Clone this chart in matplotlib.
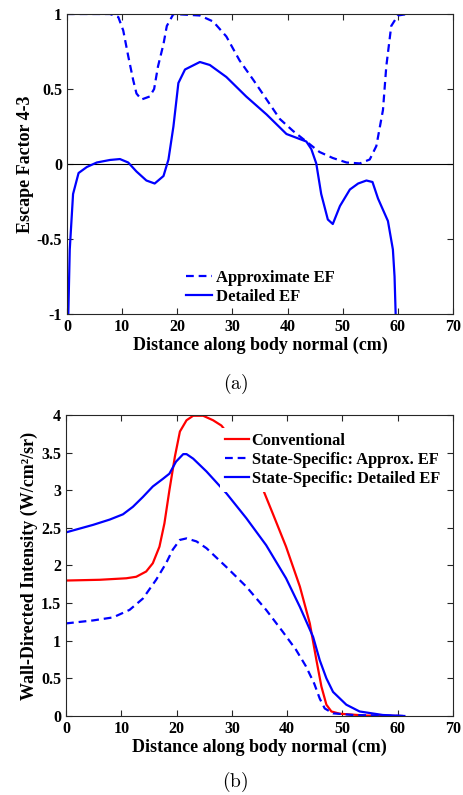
import matplotlib
matplotlib.use('Agg')
import matplotlib.pyplot as plt

plt.rcParams['font.family'] = ['Liberation Serif', 'DejaVu Serif']
plt.rcParams['font.weight'] = 'bold'
plt.rcParams['axes.labelweight'] = 'bold'

# panel (a): escape factor
approx_x = [0, 7.8, 9.3, 10.2, 11.1, 12.0, 12.6, 13.5, 15.0, 15.8, 16.5, 17.5, 18.1, 19.3,
            24.1, 26.5, 28.9, 31.3, 33.8, 36.2, 38.6, 41.0, 43.4, 45.8, 48.2, 50.7, 53.1,
            54.9, 56.1, 57.3, 57.9, 58.8, 60.0, 61.8]
approx_y = [1.0, 1.0, 0.98, 0.89, 0.72, 0.56, 0.47, 0.43, 0.45, 0.50, 0.65, 0.80, 0.92, 1.0,
            0.99, 0.95, 0.85, 0.69, 0.56, 0.43, 0.30, 0.22, 0.15, 0.08, 0.04, 0.01, 0.004,
            0.03, 0.12, 0.36, 0.65, 0.92, 0.99, 1.0]
detail_x = [0.24, 0.5, 1.1, 2.1, 3.6, 5.4, 7.8, 9.6, 11.1, 12.6, 14.4, 15.9, 17.5, 18.4,
            19.3, 20.2, 21.4, 24.1, 25.9, 28.9, 32.5, 36.2, 39.8, 43.4, 44.3, 45.2, 46.1,
            47.3, 48.2, 49.5, 51.3, 52.8, 54.3, 55.4, 56.4, 58.2, 59.1, 59.4, 59.6]
detail_y = [-1.0, -0.57, -0.20, -0.06, -0.02, 0.01, 0.027, 0.033, 0.01, -0.05, -0.11, -0.13,
            -0.08, 0.03, 0.25, 0.54, 0.63, 0.68, 0.66, 0.58, 0.45, 0.33, 0.20, 0.15, 0.10,
            0.004, -0.20, -0.37, -0.40, -0.28, -0.17, -0.13, -0.11, -0.12, -0.23, -0.38,
            -0.57, -0.75, -1.0]

# panel (b): wall-directed intensity
conv_x = [0, 6.1, 10.9, 12.7, 14.5, 15.7, 16.9, 17.8, 18.7, 19.7, 20.6, 21.8, 23.0, 24.8,
          26.6, 28.1, 31.5, 35.3, 37.4, 39.8, 42.3, 44.1, 45.3, 46.2, 47.1, 48.0, 49.5,
          54.3, 60.3]
conv_y = [1.80, 1.81, 1.83, 1.85, 1.92, 2.03, 2.25, 2.56, 3.0, 3.45, 3.78, 3.93, 3.99, 3.99,
          3.93, 3.86, 3.55, 3.07, 2.69, 2.25, 1.72, 1.23, 0.74, 0.39, 0.15, 0.06, 0.03,
          0.005, 0.0]
ssa_x = [0, 4.9, 8.5, 11.5, 13.9, 16.3, 18.1, 19.3, 20.6, 21.8, 23.6, 25.4, 29.0, 32.6,
         36.2, 39.2, 41.6, 43.4, 44.9, 45.9, 46.8, 48.3, 51.9, 57.3, 60.9]
ssa_y = [1.23, 1.27, 1.31, 1.41, 1.56, 1.81, 2.03, 2.21, 2.34, 2.36, 2.32, 2.23, 1.98, 1.72,
         1.41, 1.12, 0.88, 0.66, 0.43, 0.23, 0.10, 0.035, 0.013, 0.004, 0.0]
ssd_x = [0, 4.9, 7.9, 10.3, 12.1, 13.9, 15.7, 17.5, 18.7, 19.9, 21.2, 21.8, 23.0, 25.4,
         29.0, 32.6, 36.2, 39.8, 42.3, 44.7, 45.9, 47.1, 48.3, 50.7, 53.1, 57.3, 61.2]
ssd_y = [2.44, 2.54, 2.61, 2.68, 2.78, 2.91, 3.05, 3.15, 3.22, 3.38, 3.48, 3.48, 3.42, 3.25,
         2.96, 2.63, 2.27, 1.83, 1.45, 1.05, 0.74, 0.50, 0.32, 0.15, 0.06, 0.013, 0.0]

xticks = [0, 10, 20, 30, 40, 50, 60, 70]
yticks_a = [-1, -0.5, 0, 0.5, 1]
yticks_b = [0, 0.5, 1, 1.5, 2, 2.5, 3, 3.5, 4]
tick_fs = 11.5
label_fs = 13
dash = (0, (3.5, 2.2))


def style(ax, yticks):
    for s in ax.spines.values():
        s.set_color('0.15')
        s.set_linewidth(0.8)
    ax.set_xticks(xticks, labels=[str(t) for t in xticks], fontweight='bold', fontsize=tick_fs)
    ax.set_yticks(yticks, labels=['%g' % t for t in yticks], fontweight='bold', fontsize=tick_fs)
    ax.tick_params(direction='in', top=True, right=True, color='0.15', length=4)


fig = plt.figure(figsize=(4.63, 7.95), dpi=100)

ax1 = fig.add_axes([0.1447, 0.605, 0.8337, 0.3774])
ax1.axhline(0, color='black', lw=0.8)
ax1.plot(approx_x, approx_y, color='blue', lw=1.6, ls=dash, label='Approximate EF')
ax1.plot(detail_x, detail_y, color='blue', lw=1.6, label='Detailed EF')
ax1.set_xlim(0, 70)
ax1.set_ylim(-1, 1)
style(ax1, yticks_a)
ax1.set_xlabel('Distance along body normal (cm)', fontsize=label_fs, labelpad=1)
ax1.set_ylabel('Escape Factor 4-3', fontsize=label_fs, labelpad=2)
ax1.legend(loc='lower center', bbox_to_anchor=(0.5, -0.02), frameon=False,
           handlelength=1.6, handletextpad=0.2, labelspacing=0.2,
           prop={'weight': 'bold', 'size': 12})

ax2 = fig.add_axes([0.1426, 0.0994, 0.8358, 0.3786])
ax2.plot(conv_x, conv_y, color='red', lw=1.6, label='Conventional')
ax2.plot(ssa_x, ssa_y, color='blue', lw=1.6, ls=dash, label='State-Specific: Approx. EF')
ax2.plot(ssd_x, ssd_y, color='blue', lw=1.6, label='State-Specific: Detailed EF')
ax2.set_xlim(0, 70)
ax2.set_ylim(0, 4)
style(ax2, yticks_b)
ax2.set_xlabel('Distance along body normal (cm)', fontsize=label_fs, labelpad=1)
ax2.set_ylabel('Wall-Directed Intensity (W/cm²/sr)', fontsize=label_fs, labelpad=2)
ax2.legend(loc='upper right', bbox_to_anchor=(1.0, 0.985), frameon=True, fancybox=False,
           framealpha=1, edgecolor='none', handlelength=1.5, handletextpad=0.15,
           labelspacing=0.2, borderpad=0.3, prop={'weight': 'bold', 'size': 11.8})

fig.text(0.508, 0.517, r'$\mathrm{(a)}$', ha='center', va='center', fontsize=14,
         math_fontfamily='cm')
fig.text(0.508, 0.016, r'$\mathrm{(b)}$', ha='center', va='center', fontsize=14,
         math_fontfamily='cm')

fig.savefig('out.png', dpi=100)
